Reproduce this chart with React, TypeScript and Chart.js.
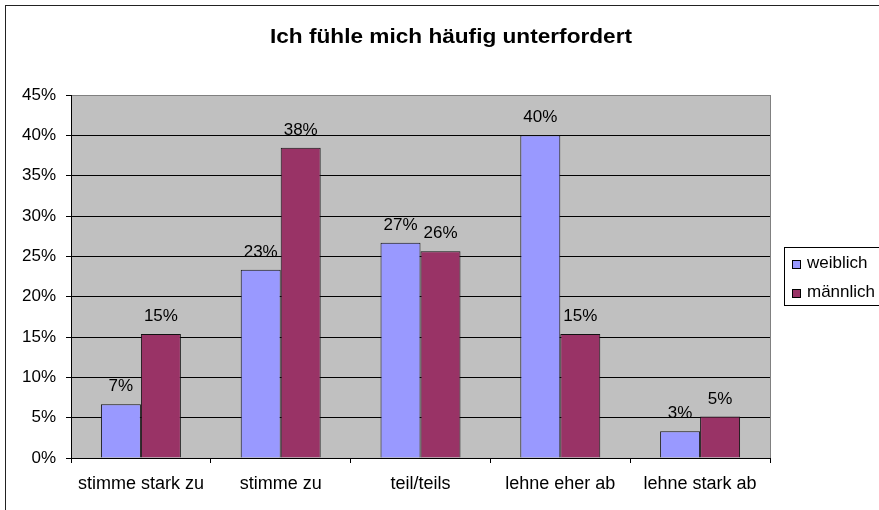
import React, { useEffect, useRef } from "react";
import { Chart, registerables } from "chart.js";

Chart.register(...registerables);

const TITLE = "Ich fühle mich häufig unterfordert";
const categories = ["stimme stark zu", "stimme zu", "teil/teils", "lehne eher ab", "lehne stark ab"];
const weiblich = [6.67, 23.33, 26.67, 40.0, 3.33];
const maennlich = [15.38, 38.46, 25.64, 15.38, 5.13];
const seriesNames = ["weiblich", "männlich"];
const seriesColors = ["#9999FF", "#993366"];
const yMin = 0;
const yMax = 45;
const yStep = 5;

const FONT = '"Liberation Sans", Arial, Helvetica, sans-serif';

const decor = {
  id: "decor",
  beforeDraw(chart: any) {
    const { ctx, chartArea: a } = chart;
    ctx.save();
    ctx.fillStyle = "#ffffff";
    ctx.fillRect(0, 0, chart.width, chart.height);
    ctx.strokeStyle = "#222";
    ctx.lineWidth = 1;
    ctx.strokeRect(5.5, 5.5, chart.width + 20, chart.height + 20);
    ctx.fillStyle = "#C0C0C0";
    ctx.fillRect(a.left, a.top, a.right - a.left, a.bottom - a.top);
    ctx.restore();
  },
  afterDatasetsDraw(chart: any) {
    const { ctx } = chart;
    ctx.save();
    ctx.fillStyle = "#000";
    ctx.font = `17px ${FONT}`;
    ctx.textAlign = "center";
    ctx.textBaseline = "alphabetic";
    chart.data.datasets.forEach((ds: any, i: number) => {
      const meta = chart.getDatasetMeta(i);
      meta.data.forEach((bar: any, j: number) => {
        const v = ds.data[j];
        ctx.fillText(Math.round(v) + "%", bar.x, bar.y - 13);
      });
    });
    ctx.restore();
  },
  afterDraw(chart: any) {
    const { ctx, chartArea: a } = chart;
    ctx.save();
    // plot area right border
    ctx.strokeStyle = "#808080";
    ctx.lineWidth = 1;
    ctx.beginPath();
    const rx = Math.round(a.right) + 0.5;
    ctx.moveTo(rx, a.top);
    ctx.lineTo(rx, a.bottom);
    ctx.stroke();

    // title
    ctx.fillStyle = "#000";
    ctx.font = `bold 20px ${FONT}`;
    ctx.textAlign = "center";
    ctx.textBaseline = "alphabetic";
    const w = ctx.measureText(TITLE).width;
    const sx = 362 / w;
    ctx.translate(451, 43);
    ctx.scale(sx, 1);
    ctx.fillText(TITLE, 0, 0);
    ctx.setTransform(1, 0, 0, 1, 0, 0);

    // legend
    ctx.strokeStyle = "#000";
    ctx.strokeRect(784.5, 247.5, 200, 58);
    ctx.font = `17px ${FONT}`;
    ctx.textAlign = "left";
    const rows = [
      { top: 260.5, base: 268 },
      { top: 289.5, base: 297 },
    ];
    seriesNames.forEach((name, i) => {
      const r = rows[i];
      ctx.fillStyle = seriesColors[i];
      ctx.fillRect(792.5, r.top, 8, 8);
      ctx.strokeStyle = "#000";
      ctx.strokeRect(792.5, r.top, 8, 8);
      ctx.fillStyle = "#000";
      ctx.fillText(name, 807, r.base);
    });
    ctx.restore();
  },
};

export default function App() {
  const ref = useRef<HTMLCanvasElement | null>(null);

  useEffect(() => {
    if (!ref.current) return;
    const chart = new Chart(ref.current, {
      type: "bar",
      data: {
        labels: categories,
        datasets: [
          {
            label: seriesNames[0],
            data: weiblich,
            backgroundColor: seriesColors[0],
            borderColor: "#111",
            borderWidth: 1,
            categoryPercentage: 0.572,
            barPercentage: 1,
          },
          {
            label: seriesNames[1],
            data: maennlich,
            backgroundColor: seriesColors[1],
            borderColor: "#111",
            borderWidth: 1,
            categoryPercentage: 0.572,
            barPercentage: 1,
          },
        ],
      },
      options: {
        responsive: false,
        animation: false,
        devicePixelRatio: 1,
        layout: { padding: { left: 0, top: 95, right: 109, bottom: 0 } },
        plugins: {
          legend: { display: false },
          title: { display: false },
          tooltip: { enabled: false },
        },
        scales: {
          x: {
            afterFit: (s: any) => {
              s.height = 52;
            },
            grid: {
              drawOnChartArea: false,
              drawTicks: true,
              tickLength: 5,
              tickColor: "#000",
              offset: true,
            },
            border: { display: true, color: "#000", width: 1 },
            ticks: {
              color: "#000",
              font: { family: FONT, size: 18 },
              padding: 10,
              maxRotation: 0,
              autoSkip: false,
            },
          },
          y: {
            min: yMin,
            max: yMax,
            afterFit: (s: any) => {
              s.width = 71;
            },
            grid: {
              color: (c: any) => (c.tick && c.tick.value === yMax ? "#808080" : "#000"),
              drawTicks: true,
              tickLength: 5,
              tickColor: "#000",
            },
            border: { display: true, color: "#000", width: 1 },
            ticks: {
              stepSize: yStep,
              color: "#000",
              font: { family: FONT, size: 17 },
              padding: 10,
              callback: (v: any) => v + "%",
            },
          },
        },
      },
      plugins: [decor],
    });
    return () => chart.destroy();
  }, []);

  return (
    <div style={{ position: "fixed", left: 0, top: 0, width: 879, height: 510 }}>
      <canvas ref={ref} width={879} height={510} style={{ width: 879, height: 510, display: "block" }} />
    </div>
  );
}
